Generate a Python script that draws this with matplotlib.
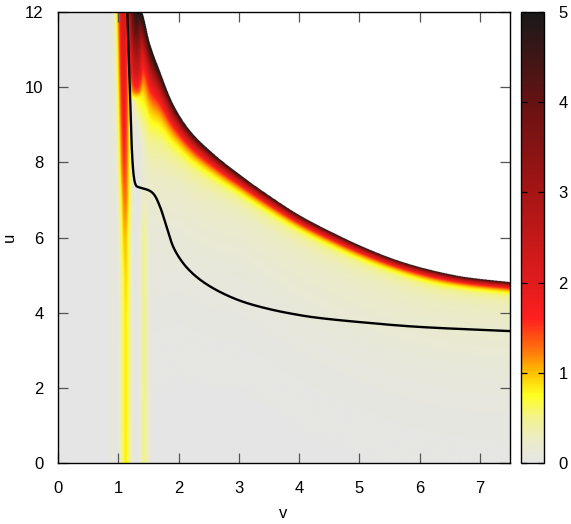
import numpy as np
import matplotlib
matplotlib.use("Agg")
import matplotlib.pyplot as plt
from matplotlib.colors import LinearSegmentedColormap

plt.rcParams['font.family'] = ['Liberation Sans', 'DejaVu Sans']

# ---- data ----
# upper boundary of the filled region (white above)
bnd_v = [1.16, 1.30, 1.39, 1.53, 1.69, 1.91, 2.19, 2.58, 3.07, 3.50, 4.01, 4.57, 5.12, 5.67, 6.22, 6.78, 7.50]
bnd_u = [12.6, 12.3, 12.05, 11.16, 10.45, 9.57, 8.86, 8.24, 7.62, 7.13, 6.60, 6.13, 5.72, 5.38, 5.13, 4.95, 4.82]
# decay width of the hot band below the boundary
band_w = [1.3, 1.1, 0.95, 0.78, 0.56, 0.40, 0.30, 0.24, 0.20, 0.18, 0.16, 0.15, 0.14, 0.13, 0.13, 0.12, 0.12]

# main vertical stripe
stripe_u = [0.0, 4.0, 5.0, 6.0, 7.0, 8.0, 10.0, 12.0]
stripe_c = [1.12, 1.12, 1.12, 1.11, 1.11, 1.10, 1.09, 1.08]
stripe_a = [0.82, 0.84, 0.90, 1.00, 1.25, 1.50, 1.85, 2.20]
stripe_s = [0.062, 0.062, 0.062, 0.064, 0.066, 0.068, 0.072, 0.076]

# faint second stripe
faint_u = [0.0, 6.0, 7.0, 8.0, 12.0]
faint_a = [0.50, 0.46, 0.28, 0.0, 0.0]
faint_c = 1.43

# plume at the top, right of the main stripe
plume_u = [9.5, 9.9, 10.4, 11.0, 11.5, 12.0]
plume_a = [0.0, 1.4, 2.3, 3.2, 4.1, 4.9]
plume_c = 1.30

# black curve
curve_v = [1.15, 1.17, 1.19, 1.21, 1.23, 1.26, 1.30, 1.40, 1.50, 1.58, 1.69, 1.80, 1.91,
           2.08, 2.30, 2.63, 3.07, 3.52, 3.85, 4.23, 5.00, 6.00, 7.50]
curve_u = [12.0, 11.0, 10.0, 9.0, 8.2, 7.6, 7.37, 7.31, 7.26, 7.17, 6.83, 6.29, 5.76,
           5.31, 4.95, 4.60, 4.29, 4.09, 3.98, 3.88, 3.75, 3.62, 3.51]

x_ticks = [0, 1, 2, 3, 4, 5, 6, 7]
y_ticks = [0, 2, 4, 6, 8, 10, 12]
cb_ticks = [0, 1, 2, 3, 4, 5]

# colour map nodes (value, rgb)
cm_vals = [0.0, 0.25, 0.5, 0.75, 1.0, 1.25, 1.6, 2.0, 3.0, 4.0, 5.0]
cm_cols = [(0.90, 0.90, 0.90), (0.925, 0.925, 0.78), (0.95, 0.95, 0.55), (1.0, 1.0, 0.12),
           (1.0, 0.75, 0.0), (1.0, 0.45, 0.05), (1.0, 0.12, 0.12), (0.88, 0.11, 0.11),
           (0.65, 0.08, 0.08), (0.40, 0.07, 0.07), (0.10, 0.10, 0.10)]


def pchip(xk, yk, x):
    xk = np.asarray(xk, float)
    yk = np.asarray(yk, float)
    x = np.asarray(x, float)
    h = np.diff(xk)
    dl = np.diff(yk) / h
    m = np.zeros_like(yk)
    for k in range(1, len(xk) - 1):
        if dl[k - 1] * dl[k] > 0:
            w1 = 2 * h[k] + h[k - 1]
            w2 = h[k] + 2 * h[k - 1]
            m[k] = (w1 + w2) / (w1 / dl[k - 1] + w2 / dl[k])
    m[0] = dl[0]
    m[-1] = dl[-1]
    xc = np.clip(x, xk[0], xk[-1])
    i = np.clip(np.searchsorted(xk, xc) - 1, 0, len(xk) - 2)
    t = (xc - xk[i]) / h[i]
    h00 = 2 * t ** 3 - 3 * t ** 2 + 1
    h10 = t ** 3 - 2 * t ** 2 + t
    h01 = -2 * t ** 3 + 3 * t ** 2
    h11 = t ** 3 - t ** 2
    return h00 * yk[i] + h10 * h[i] * m[i] + h01 * yk[i + 1] + h11 * h[i] * m[i + 1]


# ---- build field ----
nv, nu = 900, 1200
v = np.linspace(0, 7.5, nv)
u = np.linspace(0, 12, nu)
V, U = np.meshgrid(v, u)

ub_1d = pchip(bnd_v, bnd_u, v)
w_1d = pchip(bnd_v, band_w, v)
ub = np.broadcast_to(ub_1d, V.shape)
w = np.broadcast_to(w_1d, V.shape)
d = ub - U
dpos = np.clip(d, 0, None)
band = 5.0 * np.exp(-dpos / w)

# left limit of the hot/tinted region moves left near the top
cut_c = np.interp(U, [0, 8.5, 10.5, 12], [1.42, 1.38, 1.17, 1.15])
left_cut = 1.0 / (1.0 + np.exp(-(V - cut_c) / 0.03))

# soft yellow tint under the band
tint_amp = np.interp(V, [1.3, 1.5, 2.0, 3.0, 7.5], [1.0, 0.95, 0.62, 0.46, 0.42])
tint_w = np.interp(V, [1.3, 2.0, 3.0, 7.5], [2.6, 2.0, 1.8, 1.8])
tint = tint_amp * np.exp(-dpos / tint_w) * left_cut

sc = np.interp(U, stripe_u, stripe_c)
sa = np.interp(U, stripe_u, stripe_a)
ss = np.interp(U, stripe_u, stripe_s)
stripe = sa * np.exp(-0.5 * ((V - sc) / ss) ** 2)

fa = np.interp(U, faint_u, faint_a)
faint = fa * np.exp(-0.5 * ((V - faint_c) / 0.052) ** 2)
faint0 = 0.08 * np.exp(-0.5 * ((V - 0.9) / 0.05) ** 2)

pa = np.interp(U, plume_u, plume_a)
plume = pa * np.exp(-0.5 * ((V - plume_c) / 0.11) ** 2)

field = np.maximum.reduce([band * left_cut + tint, stripe, faint, faint0, plume])
field = np.clip(field, 0, 5)
field = np.where(d < 0, np.nan, field)

cmap = LinearSegmentedColormap.from_list(
    'hot2', [(cv / 5.0, cc) for cv, cc in zip(cm_vals, cm_cols)], N=256)
cmap.set_bad((1, 1, 1, 0))

# smooth black curve (parametric monotone cubic through read points)
cv_a = np.asarray(curve_v)
cu_a = np.asarray(curve_u)
seg = np.hypot(np.diff(cv_a) * 60.3, np.diff(cu_a) * 37.6)
tk = np.concatenate([[0], np.cumsum(seg)])
tt = np.linspace(0, tk[-1], 800)
line_v = pchip(tk, cv_a, tt)
line_u = pchip(tk, cu_a, tt)

# ---- draw ----
fig = plt.figure(figsize=(5.71, 5.24), dpi=100)
ax = fig.add_axes([58 / 571, 61 / 524, 452 / 571, 451 / 524])
im = ax.imshow(field, origin='lower', extent=[0, 7.5, 0, 12], aspect='auto',
               cmap=cmap, vmin=0, vmax=5, interpolation='bilinear')
ax.plot(line_v, line_u, color='black', lw=1.7, solid_joinstyle='round')
ax.set_xlim(0, 7.5)
ax.set_ylim(0, 12)
ax.set_xticks(x_ticks)
ax.set_yticks(y_ticks)
ax.tick_params(direction='in', length=7, width=0.9, color='#555555',
               top=True, right=True, labelsize=12, pad=10.5)
ax.tick_params(axis='x', pad=13)
for s in ax.spines.values():
    s.set_linewidth(1.0)
    s.set_color('black')
fig.text(283 / 571, 1 - 514 / 524, 'v', fontsize=12, ha='center', va='center')
fig.text(9 / 571, 1 - 237 / 524, 'u', fontsize=12, ha='center', va='center', rotation=90)

cax = fig.add_axes([521 / 571, 61 / 524, 23 / 571, 451 / 524])
cb = fig.colorbar(im, cax=cax)
cb.set_ticks(cb_ticks)
cax.tick_params(direction='in', length=4, width=0.9, left=True, right=True,
                labelsize=12, pad=10.5)
cb.outline.set_linewidth(1.0)

fig.savefig('out.png', dpi=100)
